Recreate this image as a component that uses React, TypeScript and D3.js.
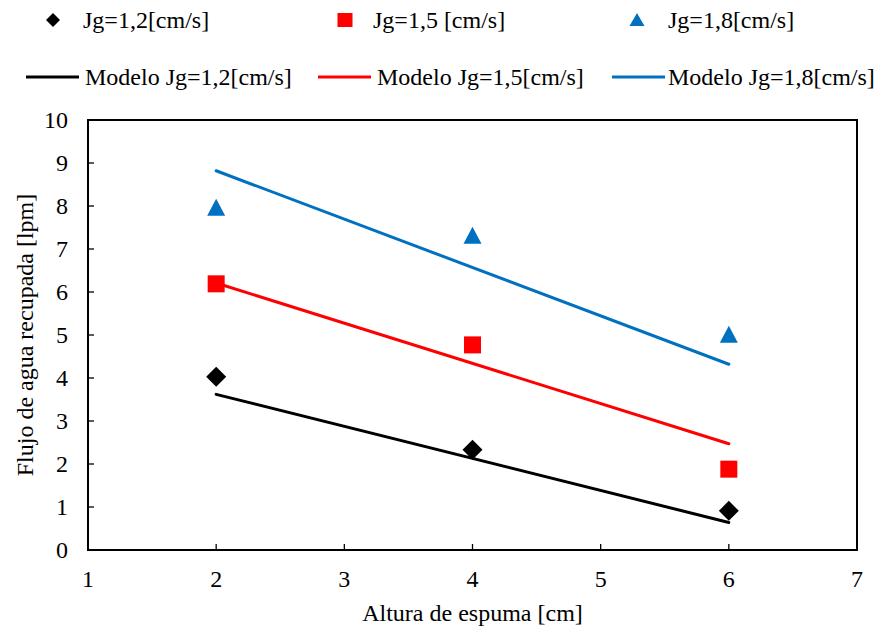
import React from "react";
import * as d3 from "d3";

// Measured points (altura de espuma [cm] vs flujo [lpm])
const alturas = [2, 4, 6];
const jg12 = [4.03, 2.33, 0.91];
const jg15 = [6.19, 4.77, 1.88];
const jg18 = [7.95, 7.3, 5.0];

// Model lines (end points at x = 2 and x = 6)
const modeloX = [2, 6];
const modelo12 = [3.62, 0.64];
const modelo15 = [6.21, 2.47];
const modelo18 = [8.82, 4.32];

const xTicks = [1, 2, 3, 4, 5, 6, 7];
const yTicks = [0, 1, 2, 3, 4, 5, 6, 7, 8, 9, 10];

const BLACK = "#000000";
const RED = "#FF0000";
const BLUE = "#0070C0";

const FONT = "'Liberation Serif', 'Times New Roman', serif";
const FS = 24;

const W = 880;
const H = 632;
const plot = { left: 88, right: 857, top: 120, bottom: 550 };

type Shape = "diamond" | "square" | "triangle";

function Marker({ shape, cx, cy, color }: { shape: Shape; cx: number; cy: number; color: string }) {
  if (shape === "diamond") {
    const r = 10;
    return <path d={`M${cx},${cy - r}L${cx + r},${cy}L${cx},${cy + r}L${cx - r},${cy}Z`} fill={color} />;
  }
  if (shape === "square") {
    const s = 17;
    return <rect x={cx - s / 2} y={cy - s / 2} width={s} height={s} fill={color} />;
  }
  const hw = 9;
  const h = 17;
  return (
    <path
      d={`M${cx},${cy - h * 0.55}L${cx + hw},${cy + h * 0.45}L${cx - hw},${cy + h * 0.45}Z`}
      fill={color}
    />
  );
}

function LegendMarker({ shape, cx, cy, color }: { shape: Shape; cx: number; cy: number; color: string }) {
  if (shape === "diamond") {
    return <path d={`M${cx},${cy - 7}L${cx + 7},${cy}L${cx},${cy + 7}L${cx - 7},${cy}Z`} fill={color} />;
  }
  if (shape === "square") {
    return <rect x={cx - 7.5} y={cy - 7} width={15} height={14} fill={color} />;
  }
  return <path d={`M${cx},${cy - 7}L${cx + 7.5},${cy + 6}L${cx - 7.5},${cy + 6}Z`} fill={color} />;
}

export default function App() {
  const x = d3.scaleLinear().domain([1, 7]).range([plot.left, plot.right]);
  const y = d3.scaleLinear().domain([0, 10]).range([plot.bottom, plot.top]);

  const line = d3
    .line<[number, number]>()
    .x((d) => x(d[0]))
    .y((d) => y(d[1]));

  const series = [
    { name: "Jg=1,2[cm/s]", values: jg12, model: modelo12, color: BLACK, shape: "diamond" as Shape },
    { name: "Jg=1,5 [cm/s]", values: jg15, model: modelo15, color: RED, shape: "square" as Shape },
    { name: "Jg=1,8[cm/s]", values: jg18, model: modelo18, color: BLUE, shape: "triangle" as Shape },
  ];
  const modelNames = ["Modelo Jg=1,2[cm/s]", "Modelo Jg=1,5[cm/s]", "Modelo Jg=1,8[cm/s]"];

  const legendMarkerX = [53, 345, 637];
  const legendTextX = [83, 373, 668];
  const legendLineX = [26, 318, 612];
  const legendLineTextX = [85, 377, 668];

  const textStyle = { fontFamily: FONT, fontSize: FS };

  return (
    <svg
      width={W}
      height={H}
      style={{ position: "absolute", left: 0, top: 0, background: "#fff", fontFamily: FONT }}
    >
      <rect x={0} y={0} width={W} height={H} fill="#fff" />

      {/* Legend, row 1: measured series */}
      {series.map((s, i) => (
        <g key={s.name}>
          <LegendMarker shape={s.shape} cx={legendMarkerX[i]} cy={20} color={s.color} />
          <text x={legendTextX[i]} y={28} style={textStyle} fill="#000">
            {s.name}
          </text>
        </g>
      ))}

      {/* Legend, row 2: model lines */}
      {series.map((s, i) => (
        <g key={modelNames[i]}>
          <line
            x1={legendLineX[i]}
            x2={legendLineX[i] + 53}
            y1={77}
            y2={77}
            stroke={s.color}
            strokeWidth={3}
          />
          <text x={legendLineTextX[i]} y={85} style={textStyle} fill="#000">
            {modelNames[i]}
          </text>
        </g>
      ))}

      {/* Plot frame */}
      <rect
        x={plot.left}
        y={plot.top}
        width={plot.right - plot.left}
        height={plot.bottom - plot.top}
        fill="none"
        stroke="#000"
        strokeWidth={2}
      />

      {/* Y ticks */}
      {yTicks.map((t) => (
        <g key={`y${t}`}>
          <line x1={plot.left} x2={plot.left + 6} y1={y(t)} y2={y(t)} stroke="#000" strokeWidth={1.3} />
          <text x={68} y={y(t) + 8} style={textStyle} textAnchor="end" fill="#000">
            {t}
          </text>
        </g>
      ))}

      {/* X ticks */}
      {xTicks.map((t) => (
        <g key={`x${t}`}>
          <line x1={x(t)} x2={x(t)} y1={plot.bottom} y2={plot.bottom - 6} stroke="#000" strokeWidth={1.3} />
          <text x={x(t)} y={587} style={textStyle} textAnchor="middle" fill="#000">
            {t}
          </text>
        </g>
      ))}

      {/* Axis titles */}
      <text x={(plot.left + plot.right) / 2} y={621} style={textStyle} textAnchor="middle" fill="#000">
        Altura de espuma [cm]
      </text>
      <text
        transform={`translate(33, ${(plot.top + plot.bottom) / 2}) rotate(-90)`}
        style={textStyle}
        textAnchor="middle"
        fill="#000"
      >
        Flujo de agua recupada [lpm]
      </text>

      {/* Model lines */}
      {series.map((s) => (
        <path
          key={`m${s.name}`}
          d={line(modeloX.map((v, i) => [v, s.model[i]] as [number, number])) || ""}
          fill="none"
          stroke={s.color}
          strokeWidth={3}
          strokeLinecap="round"
        />
      ))}

      {/* Measured points */}
      {series.map((s) =>
        s.values.map((v, i) => (
          <Marker key={`${s.name}-${i}`} shape={s.shape} cx={x(alturas[i])} cy={y(v)} color={s.color} />
        ))
      )}
    </svg>
  );
}
